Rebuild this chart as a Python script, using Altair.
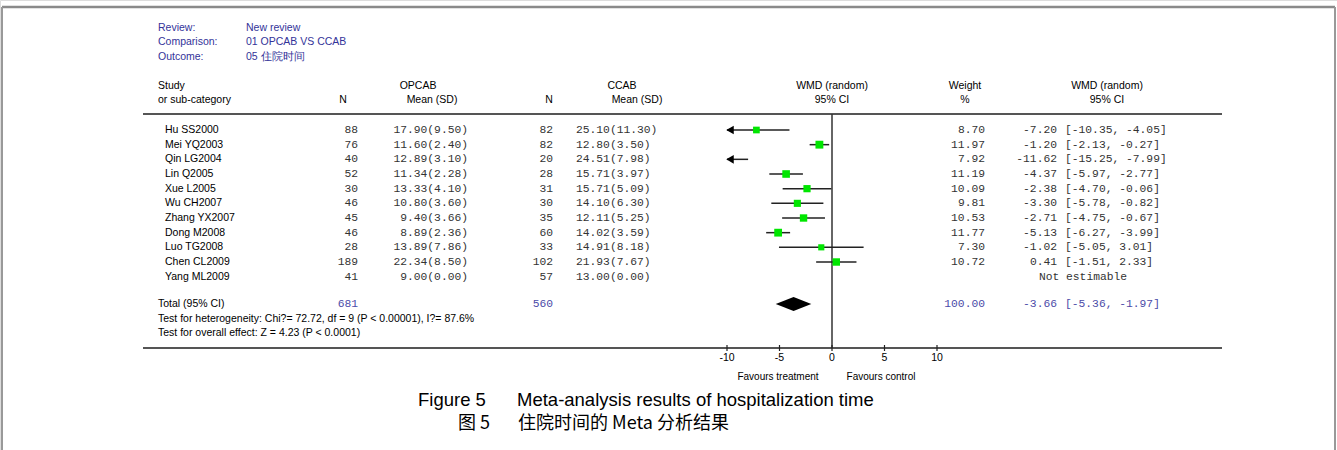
import altair as alt
import pandas as pd

# ---------------- data ----------------
studies = ["Hu SS2000", "Mei YQ2003", "Qin LG2004", "Lin Q2005", "Xue L2005", "Wu CH2007",
           "Zhang YX2007", "Dong M2008", "Luo TG2008", "Chen CL2009", "Yang ML2009"]
n1 = [88, 76, 40, 52, 30, 46, 45, 46, 28, 189, 41]
m1 = [17.90, 11.60, 12.89, 11.34, 13.33, 10.80, 9.40, 8.89, 13.89, 22.34, 9.00]
sd1 = [9.50, 2.40, 3.10, 2.28, 4.10, 3.60, 3.66, 2.36, 7.86, 8.50, 0.00]
n2 = [82, 82, 20, 28, 31, 30, 35, 60, 33, 102, 57]
m2 = [25.10, 12.80, 24.51, 15.71, 15.71, 14.10, 12.11, 14.02, 14.91, 21.93, 13.00]
sd2 = [11.30, 3.50, 7.98, 3.97, 5.09, 6.30, 5.25, 3.59, 8.18, 7.67, 0.00]
weight = [8.70, 11.97, 7.92, 11.19, 10.09, 9.81, 10.53, 11.77, 7.30, 10.72, None]
wmd = [-7.20, -1.20, -11.62, -4.37, -2.38, -3.30, -2.71, -5.13, -1.02, 0.41, None]
ci_lo = [-10.35, -2.13, -15.25, -5.97, -4.70, -5.78, -4.75, -6.27, -5.05, -1.51, None]
ci_hi = [-4.05, -0.27, -7.99, -2.77, -0.06, -0.82, -0.67, -3.99, 3.01, 2.33, None]

total_n1 = 681
total_n2 = 560
total_weight = 100.00
total_wmd = -3.66
total_lo = -5.36
total_hi = -1.97
axis_ticks = [-10, -5, 0, 5, 10]
XMIN, XMAX = -10, 10

# ---------------- tables ----------------
rows = list(range(len(studies)))
TOTAL_ROW = 11.86

df = pd.DataFrame({
    "row": rows, "study": studies, "n1": n1, "n2": n2,
    "ms1": [f"{a:.2f}({b:.2f})" for a, b in zip(m1, sd1)],
    "ms2": [f"{a:.2f}({b:.2f})" for a, b in zip(m2, sd2)],
    "w": ["" if w is None else f"{w:.2f}" for w in weight],
    "est": ["" if e is None else f"{e:.2f}" for e in wmd],
    "ci": ["" if l is None else f"[{l:.2f}, {h:.2f}]" for l, h in zip(ci_lo, ci_hi)],
})

forest = pd.DataFrame({"row": rows, "wmd": wmd, "lo": ci_lo, "hi": ci_hi, "weight": weight}).dropna()
forest["lo_c"] = forest["lo"].clip(lower=XMIN)
forest["hi_c"] = forest["hi"].clip(upper=XMAX)
lines = forest[forest["hi_c"] > XMIN]
squares = forest[(forest["wmd"] >= XMIN) & (forest["wmd"] <= XMAX)]
arrows = forest[forest["lo"] < XMIN].assign(a=XMIN)

xs = alt.Scale(domain=[XMIN, XMAX], range=[727, 937])
ys = alt.Scale(domain=[0, 12], range=[130, 306])

MONO = "Liberation Mono"
SANS = "Liberation Sans"
BLUE = "#333399"
TBLUE = "#4b4ba8"
GREY = "#333333"


def label(txt, x, y, size=10.5, align="left", color="#000000", font=SANS):
    return alt.Chart(pd.DataFrame({"t": [txt]})).mark_text(
        align=align, baseline="middle", fontSize=size, font=font, color=color
    ).encode(x=alt.value(x), y=alt.value(y), text="t:N")


def hrule(x1, x2, y, color="#555555", w=2):
    return alt.Chart(pd.DataFrame({"a": [0]})).mark_rule(color=color, strokeWidth=w).encode(
        x=alt.value(x1), x2=alt.value(x2), y=alt.value(y))


def vrule(x, y1, y2, color="#999999", w=2):
    return alt.Chart(pd.DataFrame({"a": [0]})).mark_rule(color=color, strokeWidth=w).encode(
        x=alt.value(x), y=alt.value(y1), y2=alt.value(y2))


layers = []
# frame
layers += [hrule(2, 1335, 7, "#8a8a8a", 2.5), vrule(2, 7, 450), vrule(1335, 7, 450)]

# header
layers += [label("Review:", 158, 28, color=BLUE), label("New review", 246, 28, color=BLUE),
           label("Comparison:", 158, 42, color=BLUE), label("01 OPCAB VS CCAB", 246, 42, color=BLUE),
           label("Outcome:", 158, 57, color=BLUE), label("05 住院时间", 246, 57, color=BLUE)]

layers += [label("Study", 158, 86), label("or sub-category", 158, 100),
           label("N", 343, 100, align="center"),
           label("OPCAB", 418, 86, align="center"), label("Mean (SD)", 432, 100, align="center"),
           label("N", 549, 100, align="center"),
           label("CCAB", 622, 86, align="center"), label("Mean (SD)", 637, 100, align="center"),
           label("WMD (random)", 832, 86, align="center"), label("95% CI", 832, 100, align="center"),
           label("Weight", 965, 86, align="center"), label("%", 965, 100, align="center"),
           label("WMD (random)", 1107, 86, align="center"), label("95% CI", 1107, 100, align="center")]

# lines
layers += [hrule(143, 1222, 114), hrule(143, 1222, 348)]
layers.append(alt.Chart(pd.DataFrame({"z": [0]})).mark_rule(color="#333333", strokeWidth=1.5).encode(
    x=alt.X("z:Q", scale=xs, axis=None), y=alt.value(114), y2=alt.value(348)))

# table text
base = alt.Chart(df)
Y = alt.Y("row:Q", scale=ys, axis=None)


def col(field, x, align, font=MONO, color=GREY, size=11.3):
    return base.mark_text(align=align, baseline="middle", font=font, fontSize=size, color=color).encode(
        x=alt.value(x), y=Y, text=f"{field}:N")


layers += [col("study", 165, "left", font=SANS, color="#000000", size=10.5),
           col("n1", 358, "right"), col("ms1", 468, "right"),
           col("n2", 553, "right"), col("ms2", 576, "left"),
           col("w", 985, "right"), col("est", 1057, "right"), col("ci", 1065, "left")]
layers.append(alt.Chart(pd.DataFrame({"row": [10], "t": ["Not estimable"]})).mark_text(
    align="center", baseline="middle", font=MONO, fontSize=11.3, color=GREY).encode(
    x=alt.value(1083), y=Y, text="t:N"))

# total row
tot = pd.DataFrame({"row": [TOTAL_ROW]})


def tcol(txt, x, align, font=MONO, color=TBLUE, size=11.3):
    return alt.Chart(tot).mark_text(align=align, baseline="middle", font=font, fontSize=size,
                                     color=color, text=txt).encode(x=alt.value(x), y=Y)


layers += [tcol("Total (95% CI)", 158, "left", font=SANS, color="#000000", size=10.5),
           tcol(str(total_n1), 358, "right"), tcol(str(total_n2), 553, "right"),
           tcol(f"{total_weight:.2f}", 985, "right"), tcol(f"{total_wmd:.2f}", 1057, "right"),
           tcol(f"[{total_lo:.2f}, {total_hi:.2f}]", 1065, "left")]
layers += [label("Test for heterogeneity: Chi?= 72.72, df = 9 (P < 0.00001), I?= 87.6%", 158, 319),
           label("Test for overall effect: Z = 4.23 (P < 0.0001)", 158, 333)]

# forest marks
layers.append(alt.Chart(lines).mark_rule(color="#222222", strokeWidth=1.5).encode(
    x=alt.X("lo_c:Q", scale=xs, axis=None), x2="hi_c:Q", y=Y))
layers.append(alt.Chart(squares).mark_point(shape="square", filled=True, color="#00e600", opacity=1).encode(
    x=alt.X("wmd:Q", scale=xs, axis=None), y=Y,
    size=alt.Size("weight:Q", scale=alt.Scale(domain=[0, 12], range=[0, 62]), legend=None)))
layers.append(alt.Chart(arrows).mark_point(shape="triangle-left", filled=True, color="#000000",
                                           opacity=1, size=75, xOffset=3).encode(
    x=alt.X("a:Q", scale=xs, axis=None), y=Y))

dia = pd.DataFrame({"x": [total_lo, total_wmd, total_hi],
                    "y1": [TOTAL_ROW, TOTAL_ROW - 0.48, TOTAL_ROW],
                    "y2": [TOTAL_ROW, TOTAL_ROW + 0.48, TOTAL_ROW]})
layers.append(alt.Chart(dia).mark_area(color="#000000", opacity=1).encode(
    x=alt.X("x:Q", scale=xs, axis=None), y=alt.Y("y1:Q", scale=ys, axis=None), y2="y2:Q"))

# axis ticks and labels
tk = pd.DataFrame({"v": axis_ticks, "t": [str(v) for v in axis_ticks]})
layers.append(alt.Chart(tk).mark_rule(color="#222222", strokeWidth=1.2).encode(
    x=alt.X("v:Q", scale=xs, axis=None), y=alt.value(345), y2=alt.value(351)))
layers.append(alt.Chart(tk).mark_text(align="center", baseline="middle", font=SANS, fontSize=10.5,
                                      color="#000000").encode(
    x=alt.X("v:Q", scale=xs, axis=None), y=alt.value(358), text="t:N"))
layers += [label("Favours treatment", 778, 377, size=10, align="center"),
           label("Favours control", 881, 377, size=10, align="center")]

# caption
layers += [label("Figure 5", 418, 400, size=18.5), label("Meta-analysis results of hospitalization time", 517, 400, size=18.5),
           label("图 5", 458, 424, size=18, font="Noto Sans CJK SC"),
           label("住院时间的 Meta 分析结果", 518, 424, size=18, font="Noto Sans CJK SC")]

chart = alt.layer(*layers).properties(
    width=1337, height=450, autosize=alt.AutoSizeParams(type="none"), padding=0
).configure_view(stroke=None).configure(background="white")

chart.save("out.html", embed_options={"renderer": "svg", "actions": False})
